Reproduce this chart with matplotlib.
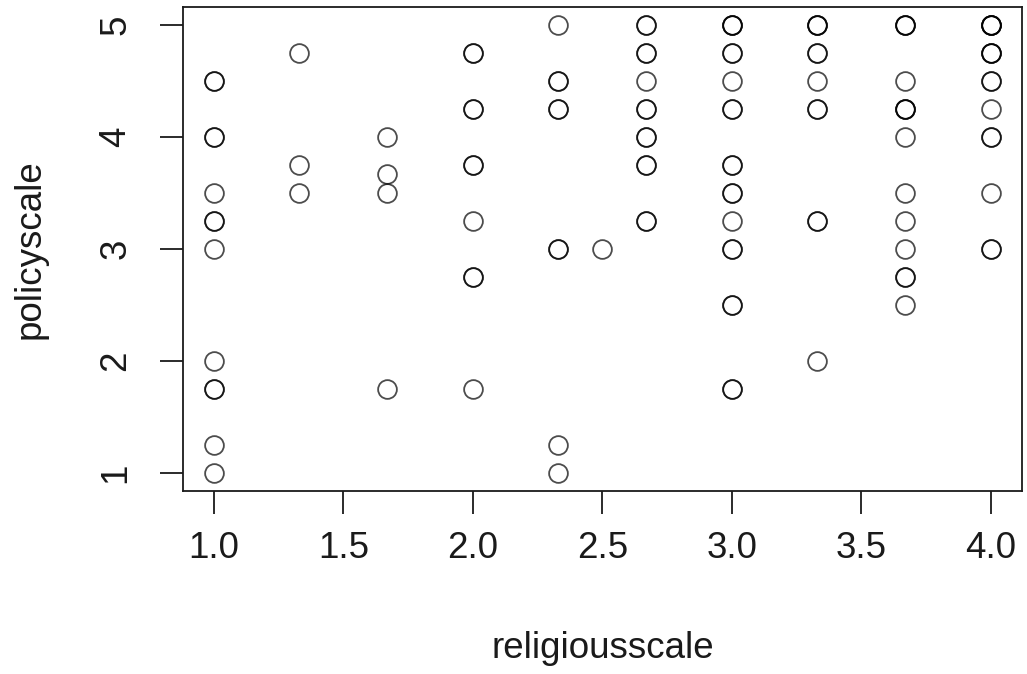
import matplotlib
matplotlib.use("Agg")
import matplotlib.pyplot as plt

plt.rcParams['font.family'] = ['Liberation Sans', 'DejaVu Sans']

# survey scores (repeated rows = overplotted points)
religiousscale = (
    [1.0] * 13
    + [1.33] * 3
    + [1.67] * 4
    + [2.0] * 10
    + [2.33] * 9
    + [2.5]
    + [2.67] * 13
    + [3.0] * 19
    + [3.33] * 11
    + [3.67] * 14
    + [4.0] * 15
)
policyscale = (
    [4.5, 4.5, 4.0, 4.0, 3.5, 3.25, 3.25, 3.0, 2.0, 1.75, 1.75, 1.25, 1.0]
    + [4.75, 3.75, 3.5]
    + [4.0, 3.67, 3.5, 1.75]
    + [4.75, 4.75, 4.25, 4.25, 3.75, 3.75, 3.25, 2.75, 2.75, 1.75]
    + [5.0, 4.5, 4.5, 4.25, 4.25, 3.0, 3.0, 1.25, 1.0]
    + [3.0]
    + [5.0, 5.0, 4.75, 4.75, 4.5, 4.25, 4.25, 4.0, 4.0, 3.75, 3.75, 3.25, 3.25]
    + [5.0, 5.0, 5.0, 4.75, 4.75, 4.5, 4.25, 4.25, 3.75, 3.75, 3.5, 3.5, 3.25,
       3.0, 3.0, 2.5, 2.5, 1.75, 1.75]
    + [5.0, 5.0, 5.0, 4.75, 4.75, 4.5, 4.25, 4.25, 3.25, 3.25, 2.0]
    + [5.0, 5.0, 4.5, 4.25, 4.25, 4.25, 4.0, 3.5, 3.25, 3.0, 2.75, 2.75, 2.5, 5.0]
    + [5.0, 5.0, 5.0, 5.0, 4.75, 4.75, 4.75, 4.5, 4.5, 4.25, 4.0, 4.0, 3.5, 3.0, 3.0]
)

xticks = [1.0, 1.5, 2.0, 2.5, 3.0, 3.5, 4.0]
yticks = [1, 2, 3, 4, 5]

fig = plt.figure(figsize=(10.27, 6.74), dpi=100)
ax = fig.add_axes([0.178, 0.2715, 0.817, 0.718])

ax.plot(religiousscale, policyscale, linestyle='none', marker='o',
        markersize=13.5, markerfacecolor='none', markeredgecolor='black',
        markeredgewidth=1.3, alpha=0.7)

# R style: 4% padding around data range
ax.set_xlim(0.88, 4.12)
ax.set_ylim(0.84, 5.16)
ax.set_xticks(xticks)
ax.set_xticklabels([f"{v:.1f}" for v in xticks])
ax.set_yticks(yticks)
ax.set_yticklabels([str(v) for v in yticks], rotation=90, va='center')

for s in ax.spines.values():
    s.set_linewidth(1.3)
    s.set_color('#1a1a1a')
ax.tick_params(axis='both', length=16.5, width=1.3, color='#1a1a1a',
               labelsize=26.5, labelcolor='#1a1a1a')
ax.tick_params(axis='x', pad=12)
ax.tick_params(axis='y', pad=19)

ax.set_xlabel('religiousscale', fontsize=26.5, color='#1a1a1a', labelpad=47)
ax.set_ylabel('policyscale', fontsize=26.5, color='#1a1a1a', labelpad=37)

fig.savefig('out.png', dpi=100)
